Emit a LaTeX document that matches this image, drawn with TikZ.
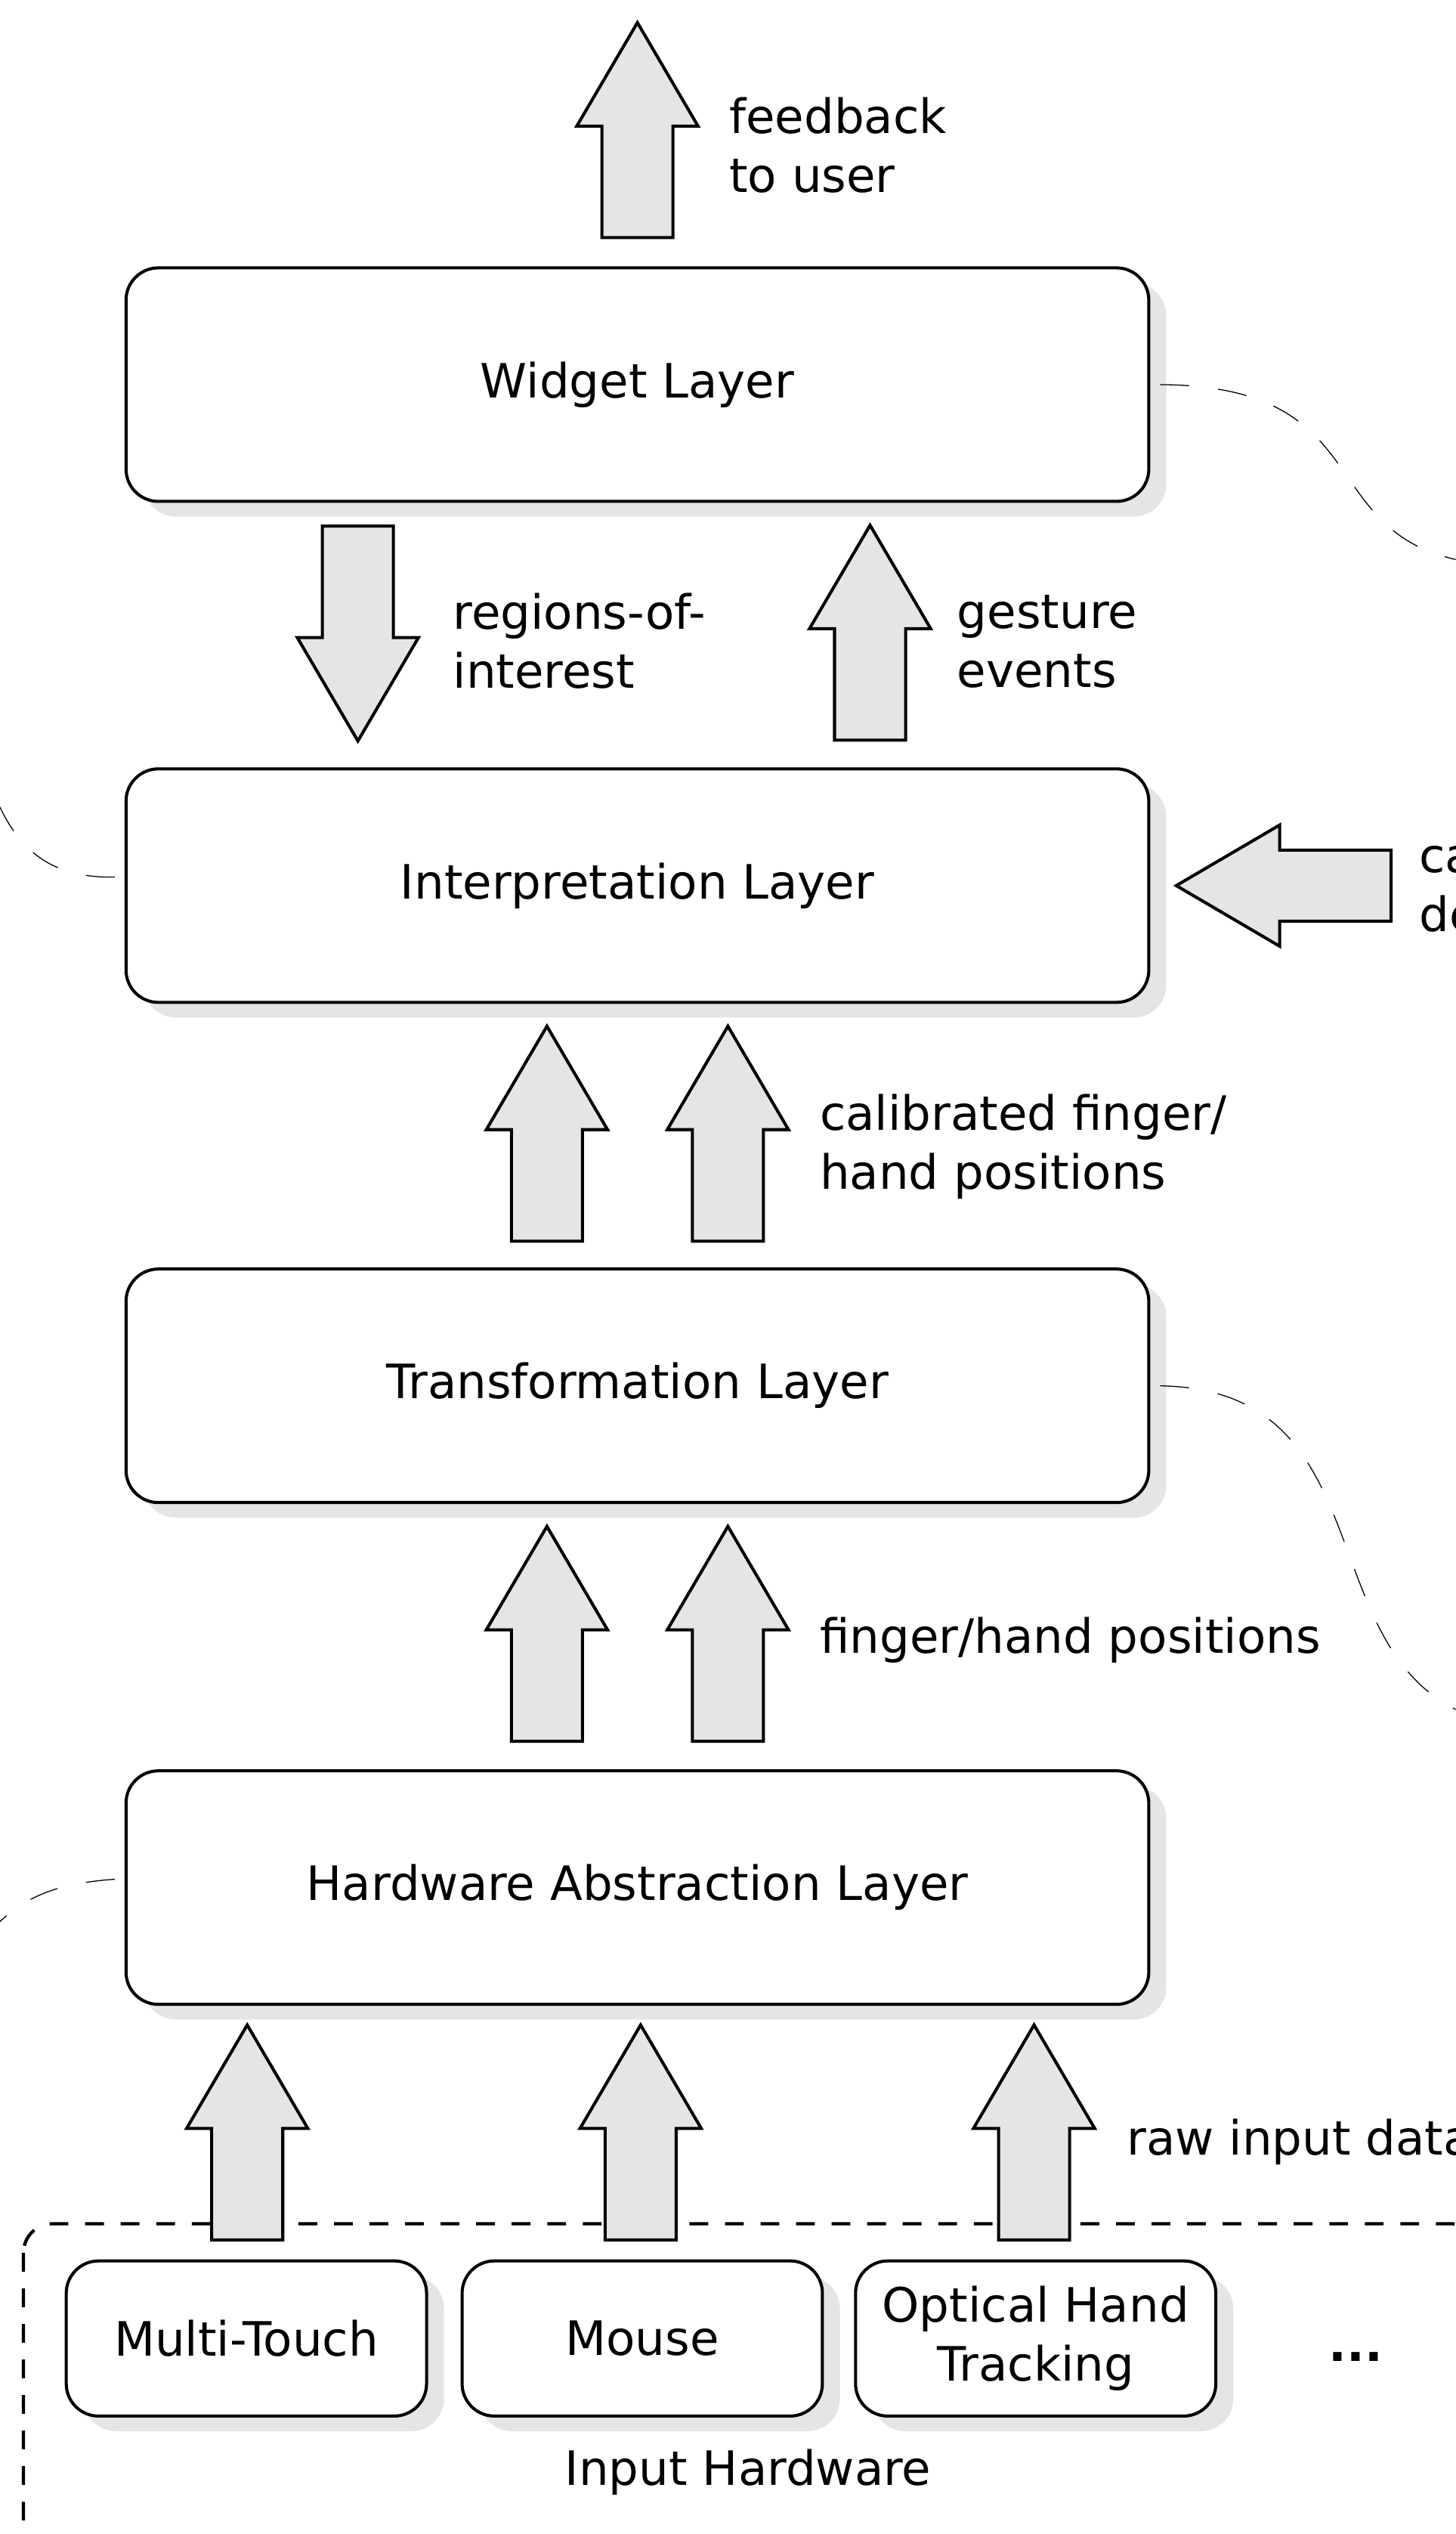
\documentclass[tikz,border=0pt]{standalone}
\usepackage{fontspec}
\setmainfont{DejaVu Sans}
\usetikzlibrary{shadows}

\tikzset{
  layer/.style={draw, line width=0.95pt, rounded corners=10pt, fill=white,
    minimum width=316.5pt, minimum height=72.25pt,
    drop shadow={shadow xshift=5.4pt, shadow yshift=-4.7pt, fill=black!10, opacity=1}},
  device/.style={layer, minimum width=111.5pt, minimum height=48pt, align=center},
  blockarr/.style={draw, line width=0.95pt, fill=black!10, line join=miter},
  lbl/.style={anchor=west, align=left, inner sep=0pt},
  link/.style={line width=0.3pt, dash pattern=on 9pt off 9pt, dash phase=15pt},
  hwbox/.style={line width=1pt, dash pattern=on 5.8pt off 5.2pt, rounded corners=9pt},
}

% block arrows, drawn from the tail point
\newcommand{\blkup}[1]{\filldraw[blockarr] (#1) ++(-22,0) -- ++(0,-69) -- ++(-15.5,0) -- ++(37.5,-64) -- ++(37.5,64) -- ++(-15.5,0) -- ++(0,69) -- cycle;}
\newcommand{\blkdown}[1]{\filldraw[blockarr] (#1) ++(-22,0) -- ++(0,69) -- ++(-15.5,0) -- ++(37.5,64) -- ++(37.5,-64) -- ++(-15.5,0) -- ++(0,-69) -- cycle;}
\newcommand{\blkleft}[1]{\filldraw[blockarr] (#1) ++(0,-22) -- ++(-69,0) -- ++(0,-15.5) -- ++(-64,37.5) -- ++(64,37.5) -- ++(0,-15.5) -- ++(69,0) -- cycle;}

\begin{document}
\begin{tikzpicture}[x=0.5pt, y=-0.5pt, font=\fontsize{14.65}{18.2}\selectfont]
        \useasboundingbox (0,0) rectangle (901,1568);
        \clip (0,0) rectangle (901,1568);

        % input hardware frame
        \draw[hwbox] (14.5,1376) rectangle (916,1576);

        % loose ends of the links
        \coordinate (wend) at (940,350);
        \coordinate (tend) at (960,1070);
        \coordinate (iend) at (-15,455);
        \coordinate (hend) at (-15,1205);

        % layers
        \node[layer] (widget) at (394.5,238) {Widget Layer};
        \node[layer] (interp) at (394.5,548) {Interpretation Layer};
        \node[layer] (transf) at (394.5,857.5) {Transformation Layer};
        \node[layer] (hal) at (394.5,1168) {Hardware Abstraction Layer};

        \draw[link] (widget.0.5) .. controls (870,236) and (800,350) .. (wend);
        \draw[link] (transf.0.5) .. controls (880,855) and (790,1070) .. (tend);
        \draw[link] (interp.179.5) .. controls (20,546) and (0,515) .. (iend);
        \draw[link] (hal.179.5) .. controls (30,1165) and (10,1175) .. (hend);

        % devices
        \node[device] (touch) at (152.5,1447) {Multi-Touch};
        \node[device] (mouse) at (397.5,1447) {Mouse};
        \node[device] (optic) at (641,1447) {Optical Hand\\Tracking};
        \node[anchor=base] (more) at (839,1461) {\textbf{...}};
        \node[anchor=base] (hwtext) at (463,1538) {Input Hardware};

        % arrows
        \coordinate (fbtail) at (394.5,147);
        \coordinate (roitail) at (221.5,325.5);
        \coordinate (getail) at (538.5,458);
        \coordinate (cal1) at (338.5,768);
        \coordinate (cal2) at (450.5,768);
        \coordinate (pos1) at (338.5,1077.5);
        \coordinate (pos2) at (450.5,1077.5);
        \coordinate (raw1) at (153,1386);
        \coordinate (raw2) at (396.5,1386);
        \coordinate (raw3) at (640,1386);
        \coordinate (intail) at (861,548);

        \blkup{fbtail}
        \blkdown{roitail}
        \blkup{getail}
        \blkup{cal1}
        \blkup{cal2}
        \blkup{pos1}
        \blkup{pos2}
        \blkup{raw1}
        \blkup{raw2}
        \blkup{raw3}
        \blkleft{intail}

        % labels
        \node[lbl] (fbtext) at (451,90) {feedback\\to user};
        \node[lbl] (roitext) at (280,396.5) {regions-of-\\interest};
        \node[lbl] (getext) at (592,397) {gesture\\events};
        \node[lbl] (caltext) at (507,709.5) {calibrated finger/\\hand positions};
        \node[lbl, anchor=base west] (postext) at (507,1023) {finger/hand positions};
        \node[lbl, anchor=base west] (rawtext) at (697,1333.5) {raw input data};
        \node[lbl] (intext) at (878,550) {ca\\de};
    \end{tikzpicture}
\end{document}
